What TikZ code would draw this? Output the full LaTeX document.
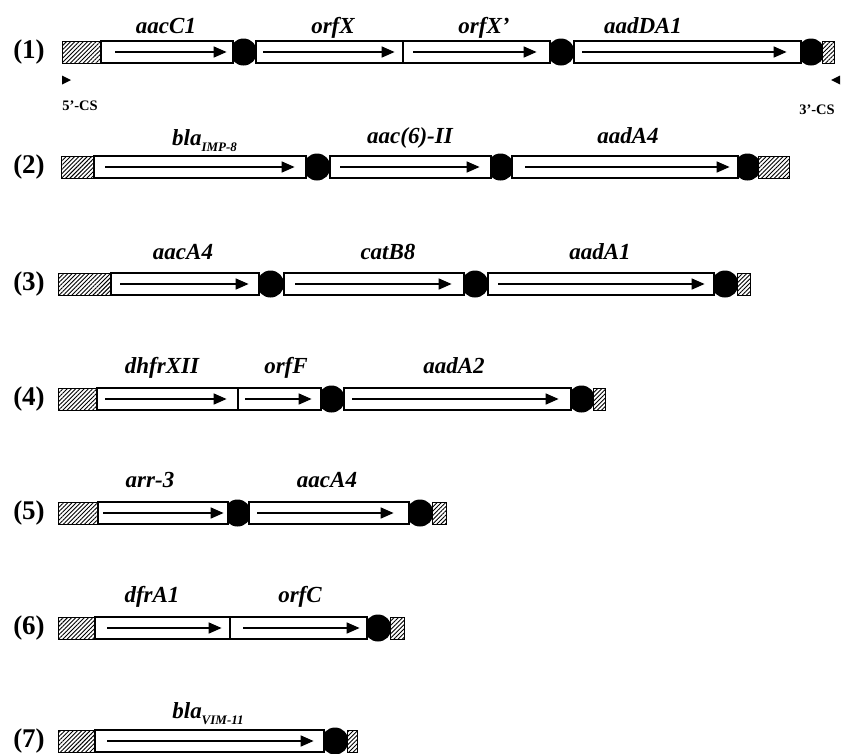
\documentclass[tikz,border=0pt]{standalone}
\usepackage{fontspec}
\setmainfont{Liberation Serif}
\usetikzlibrary{arrows.meta,patterns.meta}
\tikzset{
 genebox/.style={draw=black, line width=1.6pt, fill=white, minimum height=22pt, inner sep=0pt, anchor=west},
 hatchbox/.style={preaction={fill=white}, pattern={Lines[angle=45,distance=3pt,line width=0.9pt]}, draw=black, line width=0.5pt, minimum height=22pt, inner sep=0pt, anchor=west},
 dot/.style={circle, fill=black, minimum size=27pt, inner sep=0pt},
 genearr/.style={line width=1.6pt, -{Triangle[length=13pt,width=11pt]}},
 genelab/.style={anchor=base, inner sep=0pt, font=\fontsize{23}{24}\selectfont\bfseries\itshape},
 rowlab/.style={font=\fontsize{27}{28}\selectfont\bfseries, inner sep=0pt},
 cslab/.style={anchor=base, inner sep=0pt, font=\fontsize{14.5}{15}\selectfont\bfseries},
}
\newcommand\gbx[6]{%
  \node[genebox, minimum width={(#3)-(#2)}] (#1) at (#2,#4) {};
  \draw[genearr] ([xshift={(#5)-(#2)}]#1.west) -- ([xshift={(#6)-(#3)}]#1.east);}
\newcommand\subt[1]{\raisebox{-6pt}{\fontsize{13}{13}\selectfont #1}}
\begin{document}
\begin{tikzpicture}[x=1pt,y=-1pt]
\useasboundingbox (0,0) rectangle (841,753);
% ---------- row 1
\node[rowlab] (n1) at (29,52) {(1)};
\node[dot] (d11) at (243.5,52) {};
\node[dot] (d12) at (561,52) {};
\node[dot] (d13) at (811,52) {};
\node[hatchbox, minimum width=38] (h11) at (62,52) {};
\gbx{g11}{100}{232}{52}{115}{225}
\gbx{g12}{255}{402}{52}{263}{393}
\gbx{g13}{402}{549}{52}{413}{535}
\gbx{g14}{573}{800}{52}{582}{785}
\node[hatchbox, minimum width=12] (h12) at (822,52) {};
\node[genelab] (l11) at (166,33) {aacC1};
\node[genelab] (l12) at (333,33) {orfX};
\node[genelab] (l13) at (484,33) {orfX'};
\node[genelab] (l14) at (643,33) {aadDA1};
\fill (62,75.5) -- (71,80) -- (62,84.5) -- cycle;
\fill (840,75.5) -- (831,80) -- (840,84.5) -- cycle;
\node[cslab] (cs5) at (80,110) {5'-CS};
\node[cslab] (cs3) at (817,114) {3'-CS};
% ---------- row 2
\node[rowlab] (n2) at (29,167) {(2)};
\node[dot] (d21) at (317,167) {};
\node[dot] (d22) at (500.5,167) {};
\node[dot] (d23) at (747.5,167) {};
\node[hatchbox, minimum width=32] (h21) at (61,167) {};
\gbx{g21}{93}{305}{167}{105}{293}
\gbx{g22}{329}{490}{167}{340}{478}
\gbx{g23}{511}{737}{167}{525}{728}
\node[hatchbox, minimum width=31] (h22) at (758,167) {};
\node[genelab] (l21) at (204.5,145) {bla\subt{IMP-8}};
\node[genelab] (l22) at (410,143) {aac(6)-II};
\node[genelab] (l23) at (628,143) {aadA4};
% ---------- row 3
\node[rowlab] (n3) at (29,284) {(3)};
\node[dot] (d31) at (270.5,284) {};
\node[dot] (d32) at (475,284) {};
\node[dot] (d33) at (725,284) {};
\node[hatchbox, minimum width=52] (h31) at (58,284) {};
\gbx{g31}{110}{258}{284}{120}{247}
\gbx{g32}{283}{463}{284}{295}{450}
\gbx{g33}{487}{713}{284}{498}{703}
\node[hatchbox, minimum width=13] (h32) at (737,284) {};
\node[genelab] (l31) at (183,259) {aacA4};
\node[genelab] (l32) at (388,259) {catB8};
\node[genelab] (l33) at (600,259) {aadA1};
% ---------- row 4
\node[rowlab] (n4) at (29,399) {(4)};
\node[dot] (d41) at (331.5,399) {};
\node[dot] (d42) at (581.5,399) {};
\node[hatchbox, minimum width=38] (h41) at (58,399) {};
\gbx{g41}{96}{237}{399}{105}{225}
\gbx{g42}{237}{320}{399}{245}{310}
\gbx{g43}{343}{570}{399}{352}{557}
\node[hatchbox, minimum width=12] (h42) at (593,399) {};
\node[genelab] (l41) at (162,373) {dhfrXII};
\node[genelab] (l42) at (286,373) {orfF};
\node[genelab] (l43) at (454,373) {aadA2};
% ---------- row 5
\node[rowlab] (n5) at (29,513) {(5)};
\node[dot] (d51) at (237.5,513) {};
\node[dot] (d52) at (420,513) {};
\node[hatchbox, minimum width=39] (h51) at (58,513) {};
\gbx{g51}{97}{227}{513}{103}{222}
\gbx{g52}{248}{408}{513}{257}{392}
\node[hatchbox, minimum width=14] (h52) at (432,513) {};
\node[genelab] (l51) at (150,487) {arr-3};
\node[genelab] (l52) at (327,487) {aacA4};
% ---------- row 6
\node[rowlab] (n6) at (29,628) {(6)};
\node[dot] (d61) at (378,628) {};
\node[hatchbox, minimum width=36] (h61) at (58,628) {};
\gbx{g61}{94}{229}{628}{107}{220}
\gbx{g62}{229}{366}{628}{243}{358}
\node[hatchbox, minimum width=14] (h62) at (390,628) {};
\node[genelab] (l61) at (152,602) {dfrA1};
\node[genelab] (l62) at (300,602) {orfC};
% ---------- row 7
\node[rowlab] (n7) at (29,741) {(7)};
\node[dot] (d71) at (335,741) {};
\node[hatchbox, minimum width=36] (h71) at (58,741) {};
\gbx{g71}{94}{323}{741}{107}{312}
\node[hatchbox, minimum width=10] (h72) at (347,741) {};
\node[genelab] (l71) at (208,718) {bla\subt{VIM-11}};
\end{tikzpicture}
\end{document}
